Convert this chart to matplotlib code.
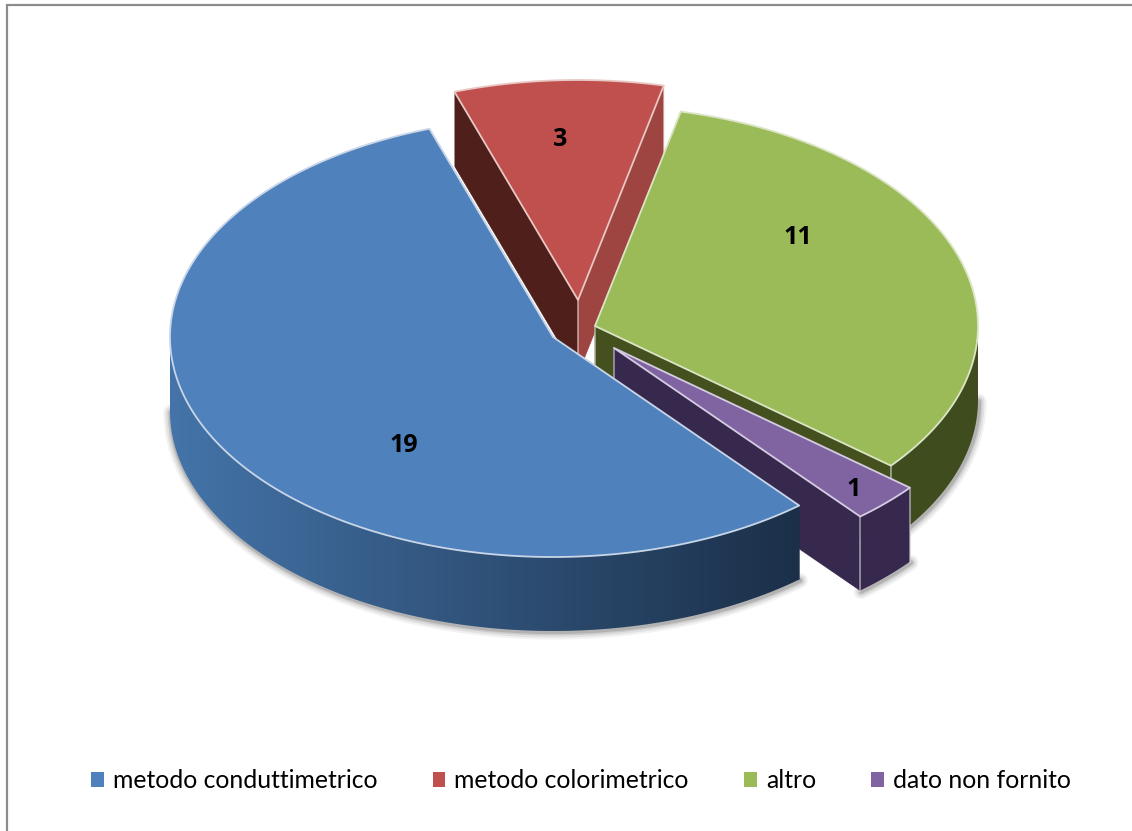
import numpy as np
import matplotlib
matplotlib.use('Agg')
import matplotlib.pyplot as plt
from matplotlib.patches import Patch, Polygon
from matplotlib.colors import to_rgb

labels = ['metodo conduttimetrico', 'metodo colorimetrico', 'altro', 'dato non fornito']
values = [19, 3, 11, 1]
top_colors = ['#4f81bd', '#c0504d', '#9bbb59', '#8064a2']

# pie geometry in pixels
rx, ry = 383, 220
depth = 74
start_angle = -50.0  # where the first slice ends, going clockwise from here
centers = [(553, 337), (578, 300), (595, 326), (614, 348)]
label_pos = [(404, 446), (560, 140), (798, 237), (854, 489)]
rim_left = ['#4474a9', '#9e4441', '#44521f', '#37284e']
rim_right = ['#1b2f48', '#9e4441', '#3f4c1e', '#37284e']
wall_first = ['#1b2f48', '#4f1f1b', '#44511f', '#37284e']  # wall on the edge at a1
wall_last = ['#1b2f48', '#9e4441', '#44511f', '#37284e']  # wall on the edge at a2
edge_colors = ['#c8d6e8', '#e8c8c4', '#dbe5c6', '#d6cce2']
draw_order = [1, 2, 3, 0]

fig = plt.figure(figsize=(1132 / 100, 831 / 100), dpi=100)
ax = fig.add_axes([0, 0, 1, 1])

# chart frame, only top and left are inside the picture
ax.plot([7, 7, 1132], [831, 4.5, 4.5], color='#8c8c8c', lw=1.6, solid_joinstyle='miter')


def pt(c, a):
    a = np.radians(a)
    return c[0] + rx * np.cos(a), c[1] - ry * np.sin(a)


# angle spans, clockwise from start_angle
spans = []
a = start_angle
for v in values:
    sweep = v / sum(values) * 360
    spans.append((a, a - sweep))
    a -= sweep

for i in draw_order:
    c = centers[i]
    a1, a2 = spans[i]
    ang = np.linspace(a1, a2, max(int(abs(a2 - a1) * 2), 8))
    x, y = pt(c, ang)

    # front part of the rim, where the slice curves toward the viewer
    wrapped = (ang + 360) % 360
    front = (wrapped >= 180) & (wrapped <= 360)

    z = 3 + draw_order.index(i)

    # soft shadow below the lower edge
    if front.any():
        for lw, al in zip([11, 8, 5, 3], [0.05, 0.07, 0.09, 0.12]):
            ax.plot(x[front] + 1, y[front] + depth + 1, color='black', lw=lw, alpha=al,
                    solid_capstyle='round', zorder=z - 0.5)

    # radial walls
    ax.add_patch(Polygon([c, (x[0], y[0]), (x[0], y[0] + depth), (c[0], c[1] + depth)],
                         fc=wall_first[i], ec=wall_first[i], lw=0.5, zorder=z))
    ax.add_patch(Polygon([c, (x[-1], y[-1]), (x[-1], y[-1] + depth), (c[0], c[1] + depth)],
                         fc=wall_last[i], ec=wall_last[i], lw=0.5, zorder=z))

    # rim, shaded left to right
    if front.any():
        xf, yf = x[front], y[front]
        outline = np.column_stack([np.r_[xf, xf[::-1]], np.r_[yf, yf[::-1] + depth]])
        x0, x1 = c[0] - rx - 1, max(c[0] + 0.64 * rx, xf.max() + 1)
        t = np.linspace(0, 1, 256)[:, None]
        grad = (np.array(to_rgb(rim_left[i])) * (1 - t) + np.array(to_rgb(rim_right[i])) * t)
        im = ax.imshow(grad[None, :, :], extent=(x0, x1, outline[:, 1].max(), outline[:, 1].min()),
                       aspect='auto', interpolation='bilinear', zorder=z + 0.1)
        im.set_clip_path(Polygon(outline, transform=ax.transData))

    # light lines on the vertical edges that show
    if i != 0:
        for xe, ye in [(c[0], c[1]), (x[0], y[0]), (x[-1], y[-1])]:
            ax.plot([xe, xe], [ye, ye + depth], color='white', lw=1.1, alpha=0.55, zorder=z + 0.2)

    # top face
    ax.add_patch(Polygon(np.column_stack([np.r_[c[0], x], np.r_[c[1], y]]),
                         fc=top_colors[i], ec=edge_colors[i], lw=1.3, joinstyle='round',
                         zorder=z + 0.5))

for i in range(len(values)):
    ax.text(label_pos[i][0], label_pos[i][1], str(values[i]), ha='center', va='center',
            fontsize=18, fontweight='bold', family='Open Sans', color='black', zorder=20)

handles = [Patch(fc=col, ec='none') for col in top_colors]
ax.legend(handles, labels, loc='center', bbox_to_anchor=(581 / 1132, 1 - 781 / 831),
          ncol=4, frameon=False, handlelength=0.52, handleheight=0.55, handletextpad=0.36,
          columnspacing=2.24, prop={'family': 'Lato', 'size': 17.8})

ax.set_xlim(0, 1132)
ax.set_ylim(831, 0)
ax.axis('off')

fig.savefig('out.png', dpi=100, facecolor='white')
